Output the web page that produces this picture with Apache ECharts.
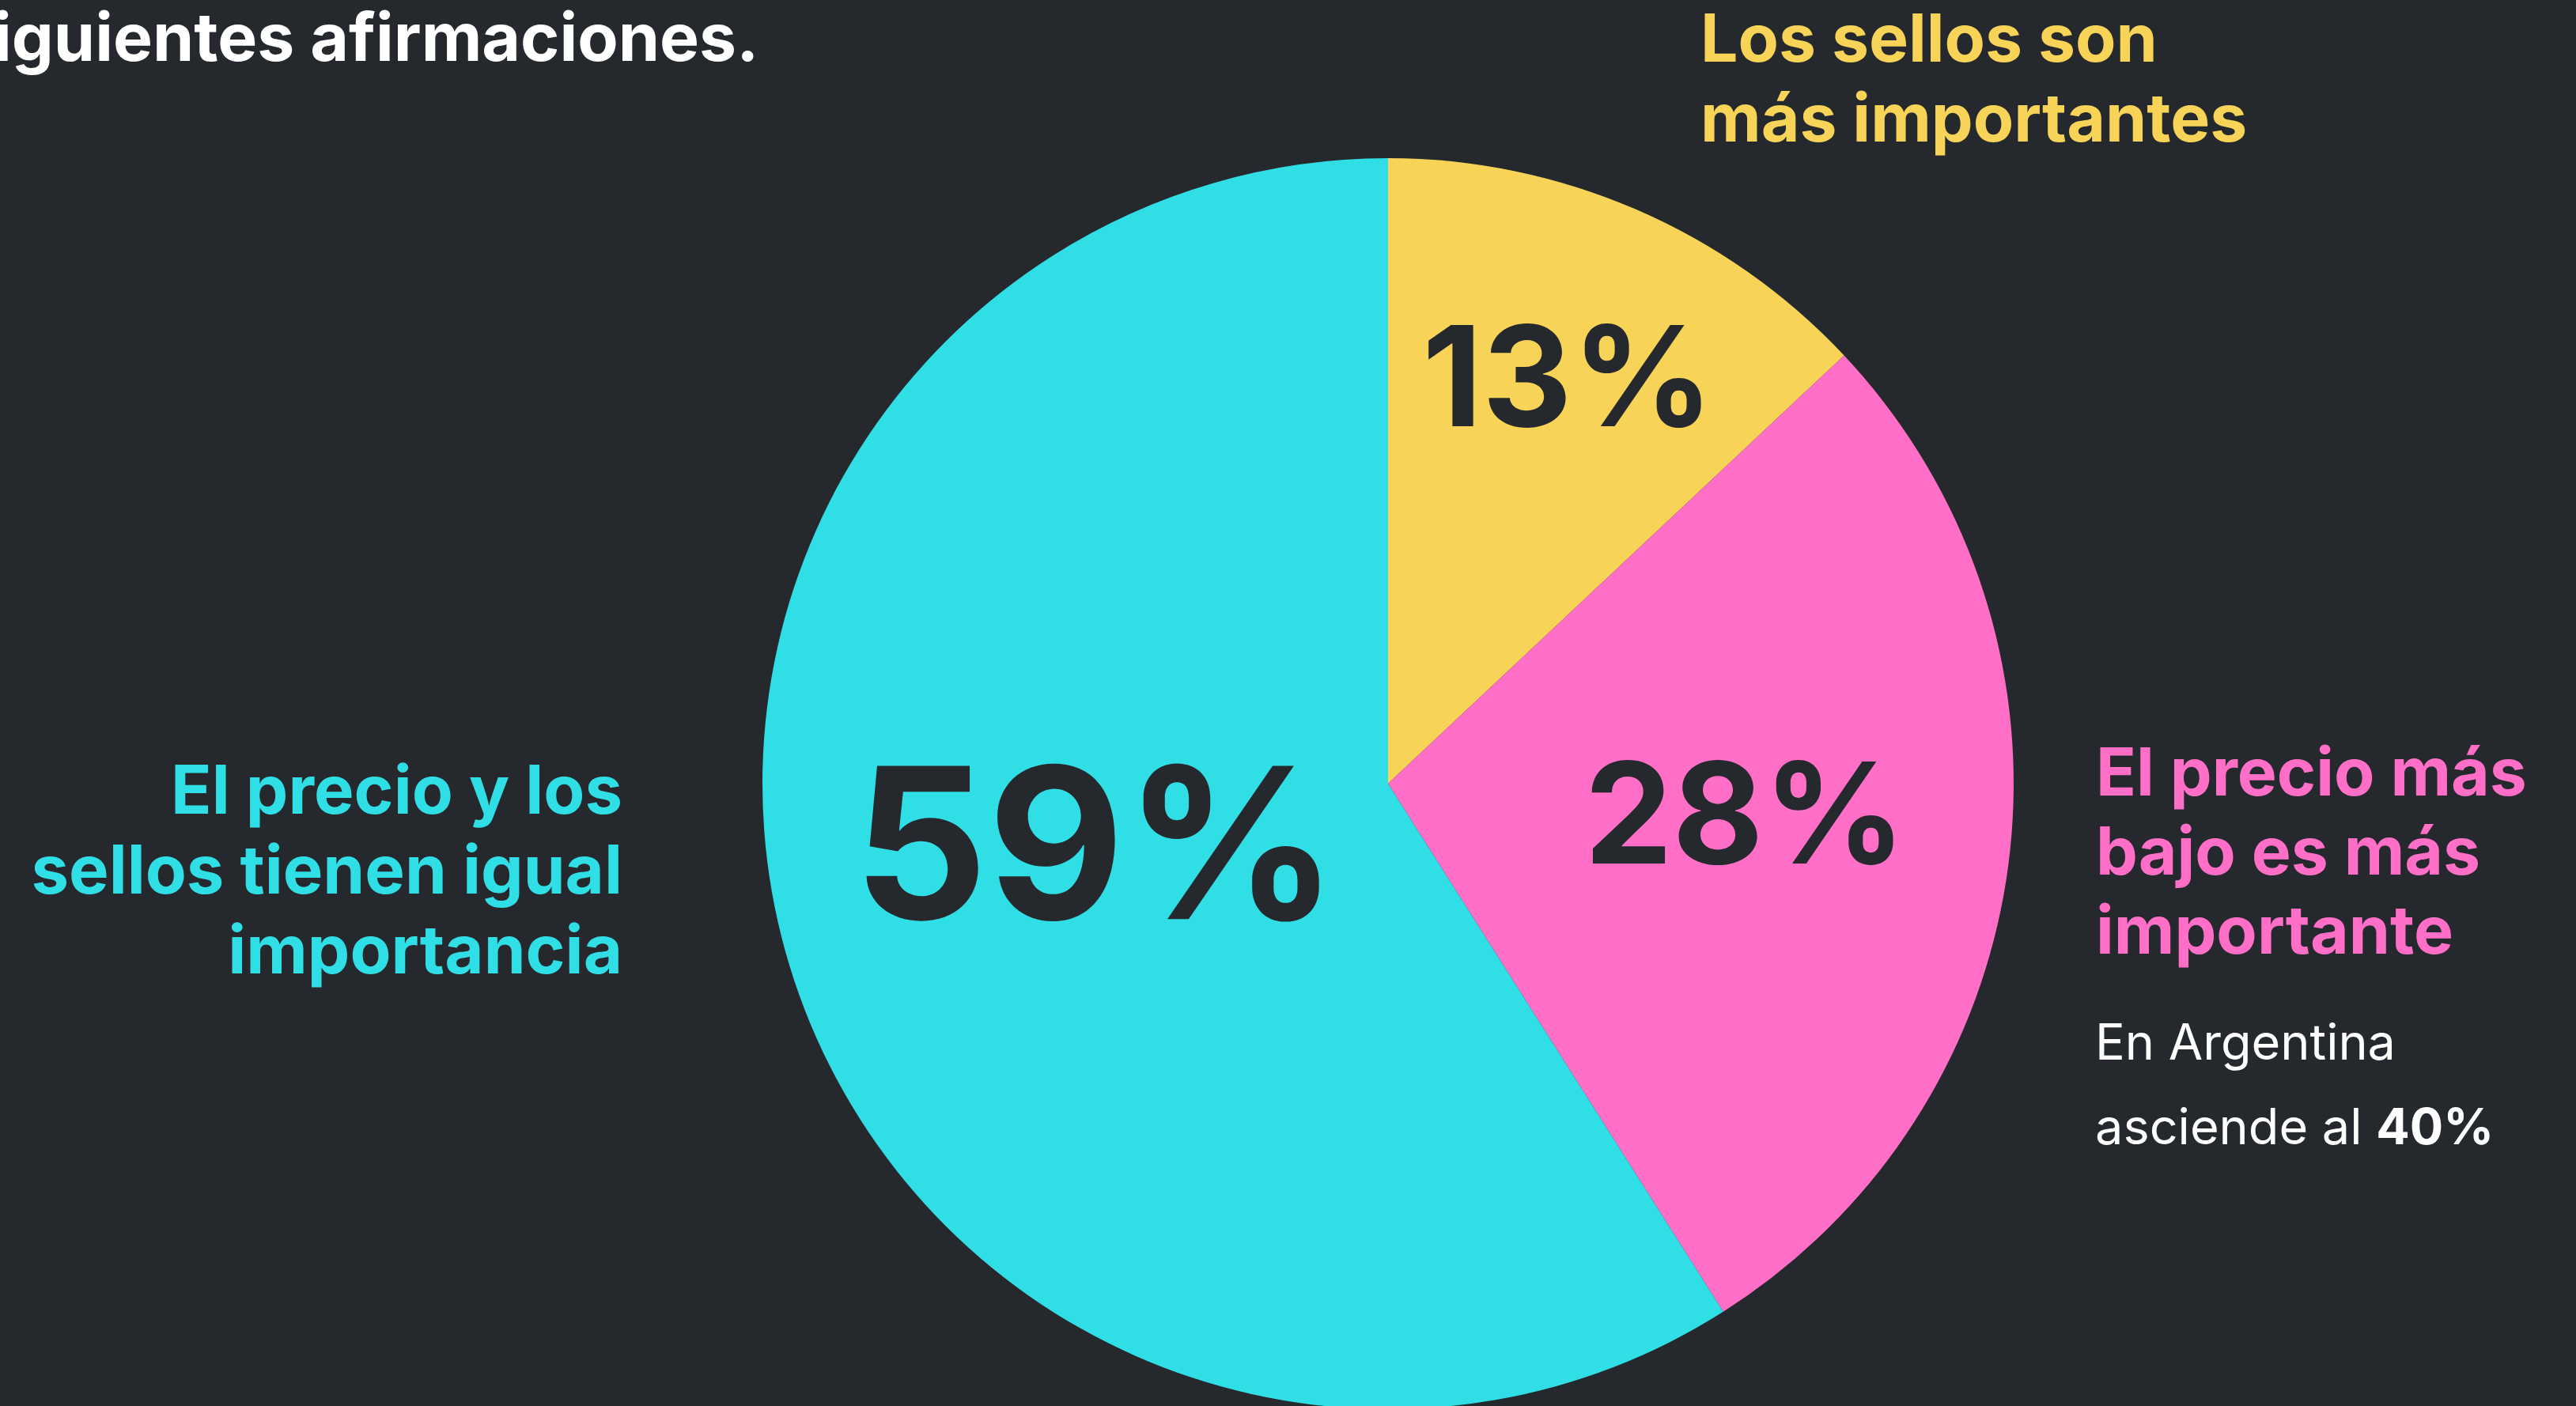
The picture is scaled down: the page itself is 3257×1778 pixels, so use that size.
<!DOCTYPE html>
<html>
<head>
<meta charset="utf-8">
<script src="https://cdn.jsdelivr.net/npm/echarts@6/dist/echarts.min.js"></script>
<style>
html,body{margin:0;padding:0;background:#25292d;}
#chart{width:3257px;height:1778px;}
</style>
</head>
<body>
<div id="chart"></div>
<script>
// ---- data ----
const categories = ['Los sellos son más importantes', 'El precio más bajo es más importante', 'El precio y los sellos tienen igual importancia'];
const values = [13, 28, 59];
const colors = ['#f7d457', '#ff6ec7', '#30dee5'];
const valueLabels = ['13%', '28%', '59%'];
const titleText = 'iguientes afirmaciones.';
const labelYellow = 'Los sellos son\nmás importantes';
const labelPink = 'El precio más\nbajo es más\nimportante';
const labelCyan = 'El precio y los\nsellos tienen igual\nimportancia';
const noteLine1 = 'En Argentina';
const noteLine2Prefix = 'asciende al ';
const noteValue = '40%';

// ---- label styling (not data) ----
const labelStyles = [
  { fontSize: 176, offset: [69, -139] },
  { fontSize: 177, offset: [56, -2] },
  { fontSize: 266, offset: [13, -20] }
];

const chart = echarts.init(document.getElementById('chart'), null, { renderer: 'canvas' });

const seriesData = categories.map((name, i) => ({
  name: name,
  value: values[i],
  itemStyle: { color: colors[i] },
  label: {
    formatter: valueLabels[i],
    fontSize: labelStyles[i].fontSize,
    offset: labelStyles[i].offset
  }
}));

const font = 'Inter, "Noto Sans", sans-serif';

chart.setOption({
  backgroundColor: '#25292d',
  animation: false,
  series: [{
    type: 'pie',
    center: [1755, 991],
    radius: [0, 791],
    startAngle: 90,
    clockwise: true,
    silent: true,
    data: seriesData,
    itemStyle: { borderWidth: 0 },
    label: {
      show: true,
      position: 'inside',
      color: '#25292d',
      fontFamily: font,
      fontWeight: 'bold',
      lineHeight: 0
    },
    labelLine: { show: false }
  }],
  graphic: [
    {
      type: 'text', x: -8, y: 10,
      style: { text: titleText, fill: '#ffffff', fontFamily: 'Inter', fontWeight: 'bold', fontSize: 84, verticalAlign: 'top', align: 'left' }
    },
    {
      type: 'text', x: 2150, y: 2,
      style: { text: labelYellow, fill: colors[0], fontFamily: 'Inter', fontWeight: 'bold', fontSize: 84, lineHeight: 101, verticalAlign: 'top', align: 'left' }
    },
    {
      type: 'text', x: 2650, y: 931,
      style: { text: labelPink, fill: colors[1], fontFamily: 'Inter', fontWeight: 'bold', fontSize: 84, lineHeight: 100, verticalAlign: 'top', align: 'left' }
    },
    {
      type: 'text', x: 787, y: 953,
      style: { text: labelCyan, fill: colors[2], fontFamily: 'Inter', fontWeight: 'bold', fontSize: 85, lineHeight: 101, verticalAlign: 'top', align: 'right' }
    },
    {
      type: 'text', x: 2649, y: 1268,
      style: {
        text: noteLine1 + '\n' + noteLine2Prefix + '{b|' + noteValue + '}',
        fill: '#ffffff', fontFamily: 'Inter', fontWeight: 'normal', fontSize: 63, lineHeight: 107,
        verticalAlign: 'top', align: 'left',
        rich: { b: { fontFamily: 'Inter', fontWeight: 'bold', fontSize: 63, fill: '#ffffff', lineHeight: 107 } }
      }
    }
  ]
});
</script>
</body>
</html>
